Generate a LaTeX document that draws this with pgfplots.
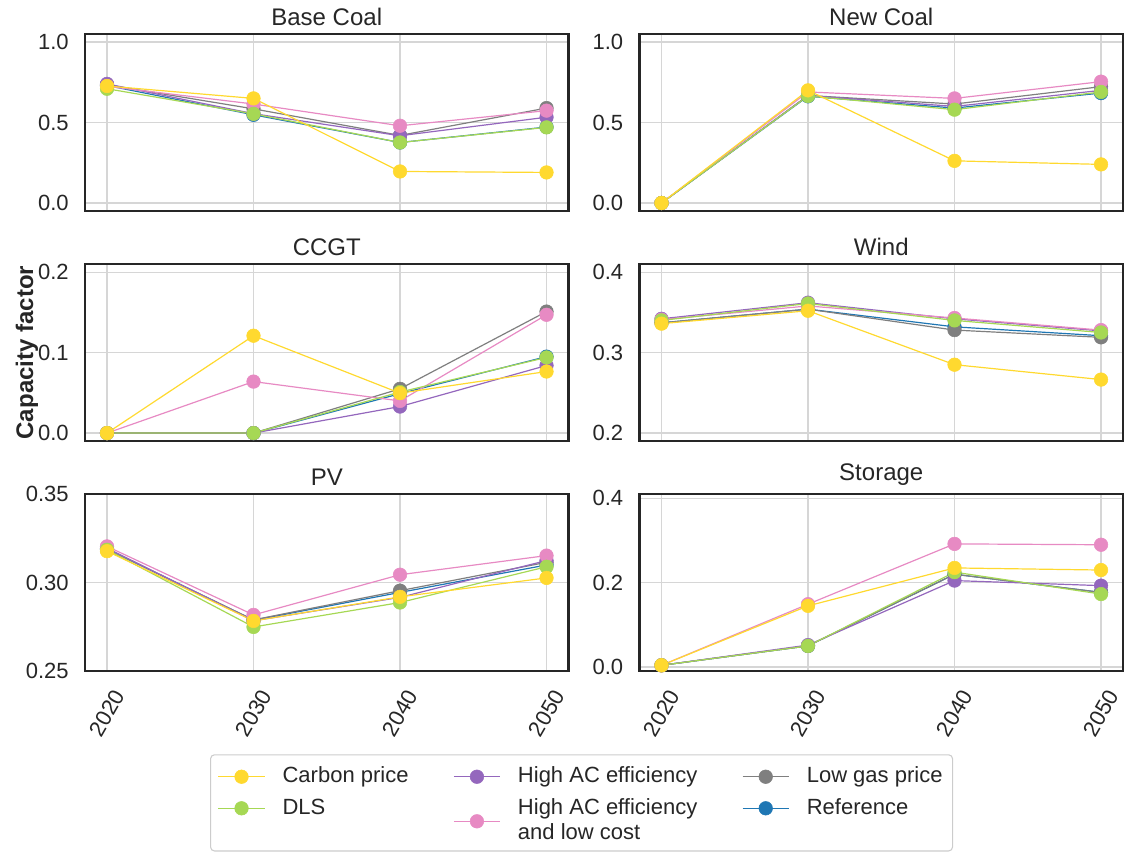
\documentclass[border=0pt]{standalone}
\usepackage{pgfplots}
\pgfplotsset{compat=1.18}
\usepackage{pgfplotstable}
\usepgfplotslibrary{groupplots}
\usepackage{fontspec}
\setmainfont{Liberation Sans}
\renewcommand{\arraystretch}{0.95}

\definecolor{cpc}{HTML}{FFD92F}
\definecolor{dlsc}{HTML}{A6D854}
\definecolor{hacc}{HTML}{9467BD}
\definecolor{haclcc}{HTML}{E78AC3}
\definecolor{lgpc}{HTML}{7F7F7F}
\definecolor{refc}{HTML}{1F77B4}
\definecolor{framec}{HTML}{262626}
\definecolor{gridc}{HTML}{D6D6D6}
\definecolor{legc}{HTML}{CCCCCC}

\pgfplotstableread{
year cp dls hac haclc lgp ref
2020 0.727 0.710 0.740 0.725 0.735 0.730
2030 0.650 0.554 0.555 0.615 0.585 0.548
2040 0.196 0.376 0.418 0.480 0.420 0.376
2050 0.190 0.470 0.533 0.574 0.590 0.472
}\basecoal

\pgfplotstableread{
year cp dls hac haclc lgp ref
2020 0.000 0.000 0.000 0.000 0.000 0.000
2030 0.700 0.665 0.668 0.690 0.668 0.663
2040 0.262 0.580 0.600 0.650 0.615 0.590
2050 0.240 0.690 0.700 0.754 0.723 0.683
}\newcoal

\pgfplotstableread{
year cp dls hac haclc lgp ref
2020 0.000 0.000 0.000 0.000 0.000 0.000
2030 0.121 0.000 0.000 0.064 0.000 0.000
2040 0.0496 0.051 0.033 0.040 0.055 0.049
2050 0.0765 0.094 0.084 0.147 0.151 0.095
}\ccgt

\pgfplotstableread{
year cp dls hac haclc lgp ref
2020 0.336 0.340 0.342 0.341 0.337 0.337
2030 0.352 0.361 0.362 0.358 0.354 0.354
2040 0.285 0.340 0.342 0.343 0.328 0.332
2050 0.2665 0.325 0.327 0.328 0.319 0.321
}\wind

\pgfplotstableread{
year cp dls hac haclc lgp ref
2020 0.3178 0.3186 0.3195 0.3205 0.3190 0.3190
2030 0.2784 0.2750 0.2785 0.2818 0.2790 0.2788
2040 0.2920 0.2888 0.2917 0.3045 0.2955 0.2945
2050 0.3027 0.3090 0.3125 0.3153 0.3115 0.3100
}\pv

\pgfplotstableread{
year cp dls hac haclc lgp ref
2020 0.004 0.004 0.004 0.004 0.004 0.004
2030 0.145 0.050 0.052 0.149 0.050 0.050
2040 0.235 0.225 0.205 0.292 0.220 0.220
2050 0.230 0.173 0.193 0.290 0.177 0.177
}\storage

\pgfplotsset{
  ser/.style={color=#1, line width=0.9pt, mark=*, mark size=5.1pt,
    mark options={solid, fill=#1, draw=#1, line width=0.4pt}},
}

\newcommand{\plotall}[1]{%
  \addplot[ser=refc, forget plot] table[x=year, y=ref] {#1};
  \addplot[ser=lgpc, forget plot] table[x=year, y=lgp] {#1};
  \addplot[ser=hacc, forget plot] table[x=year, y=hac] {#1};
  \addplot[ser=haclcc, forget plot] table[x=year, y=haclc] {#1};
  \addplot[ser=dlsc, forget plot] table[x=year, y=dls] {#1};
  \addplot[ser=cpc, forget plot] table[x=year, y=cp] {#1};
}

\begin{document}
\begin{tikzpicture}
\begin{groupplot}[
  group style={group size=2 by 3, horizontal sep=53.25pt, vertical sep=39.75pt,
    xticklabels at=edge bottom},
  scale only axis, width=362.5pt, height=132.75pt,
  xmin=2018.5, xmax=2051.5,
  xtick={2020,2030,2040,2050}, xticklabels={2020,2030,2040,2050},
  major tick length=0pt,
  grid=major, major grid style={draw=gridc, line width=0.9pt},
  axis line style={draw=framec, line width=1.9pt},
  tick label style={font=\fontsize{16.5}{19.8}\selectfont, text=framec},
  /pgf/number format/assume math mode=true,
  yticklabel style={xshift=-8.75pt},
  xticklabel style={xshift=11pt, yshift=-12.5pt, rotate=60, anchor=east},
  title style={font=\fontsize{18}{21.6}\selectfont, text=framec, yshift=-3pt},
  legend image code/.code={\draw[mark repeat=2,mark phase=2,yshift=4.5pt] plot coordinates {(0cm,0cm) (0.608cm,0cm) (1.217cm,0cm)};},
]
\nextgroupplot[title={Base Coal}, ymin=-0.05, ymax=1.05, ytick={0,0.5,1}, yticklabels={0.0,0.5,1.0}]
\plotall{\basecoal}
\nextgroupplot[title={New Coal}, ymin=-0.05, ymax=1.05, ytick={0,0.5,1}, yticklabels={0.0,0.5,1.0}]
\plotall{\newcoal}
\nextgroupplot[title={CCGT}, ymin=-0.01, ymax=0.21, ytick={0,0.1,0.2}, yticklabels={0.0,0.1,0.2},
  ylabel={Capacity factor},
  ylabel style={at={(rel axis cs:-0.12,0.5)}, anchor=center, font=\bfseries\fontsize{18}{21.6}\selectfont, text=framec}]
\plotall{\ccgt}
\nextgroupplot[title={Wind}, ymin=0.19, ymax=0.41, ytick={0.2,0.3,0.4}, yticklabels={0.2,0.3,0.4}]
\plotall{\wind}
\nextgroupplot[title={PV}, ymin=0.25, ymax=0.35, ytick={0.25,0.30,0.35}, yticklabels={0.25,0.30,0.35},
  legend columns=3,
  legend style={at={(1.027,-0.469)}, anchor=north, draw=legc, line width=0.8pt, rounded corners=3pt,
    font=\fontsize{16.5}{19.8}\selectfont, text=framec,
    cells={anchor=base west}, inner xsep=5.5pt, inner ysep=7pt, row sep=5pt,
    /tikz/every odd column/.append style={column sep=11pt},
    /tikz/every even column/.append style={column sep=31.5pt}},
]
\plotall{\pv}
\addlegendimage{ser=cpc}\addlegendentry{Carbon price}
\addlegendimage{ser=hacc}\addlegendentry{High AC efficiency}
\addlegendimage{ser=lgpc}\addlegendentry{Low gas price}
\addlegendimage{ser=dlsc}\addlegendentry{DLS}
\addlegendimage{ser=haclcc, legend image code/.code={\draw[mark repeat=2,mark phase=2,yshift=-5.25pt] plot coordinates {(0cm,0cm) (0.608cm,0cm) (1.217cm,0cm)};}}
\addlegendentry[text depth=18.5pt]{\begin{tabular}[t]{@{}l@{}}High AC efficiency\\and low cost\end{tabular}}
\addlegendimage{ser=refc}\addlegendentry{Reference}
\nextgroupplot[title={Storage}, ymin=-0.01, ymax=0.41, ytick={0,0.2,0.4}, yticklabels={0.0,0.2,0.4}]
\plotall{\storage}
\end{groupplot}
\path ([xshift=-63.75pt,yshift=25.5pt]group c1r1.north west) rectangle ([xshift=3pt,yshift=-135pt]group c2r3.south east);
\end{tikzpicture}
\end{document}
